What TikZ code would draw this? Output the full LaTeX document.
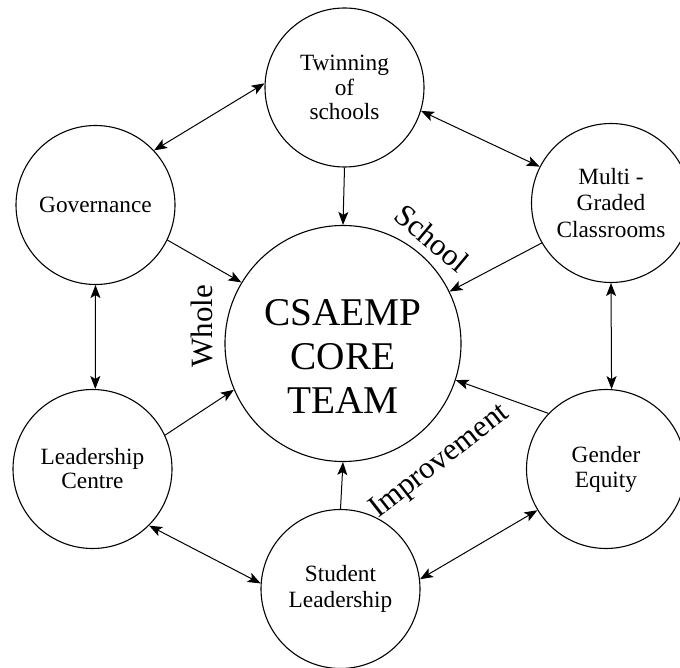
\documentclass[tikz,border=0pt]{standalone}
\usepackage{fontspec}
\setmainfont{Liberation Serif}
\usetikzlibrary{arrows.meta}
\begin{document}
\begin{tikzpicture}[x=1pt,y=-1pt,
  hub/.style={circle,draw,line width=1.1pt,minimum size=236pt,inner sep=0pt},
  topic/.style={circle,draw,line width=1.1pt,minimum size=159pt,inner sep=0pt,align=center},
  tfont/.style={font=\fontsize{23.3}{#1}\selectfont},
  tip/.tip={Stealth[length=13pt,width=10pt,inset=3pt]},
  link/.style={line width=1pt,-tip},
  twoway/.style={line width=1pt,tip-tip},
  theme/.style={font=\fontsize{31}{31}\selectfont,inner sep=0pt}
]
\clip (0,0) rectangle (680,668);

% central team
\node[hub] (core) at (343,343.5) {};
\node[align=center,inner sep=0pt,font=\fontsize{39.3}{44}\selectfont] (coretext) at (343,356) {CSAEMP\\CORE\\TEAM};

% surrounding programme areas
\node[topic,tfont=24.3] (twin) at (344.5,87.5) {Twinning\\of\\schools};
\node[topic,tfont=25] (gov) at (95.5,205) {Governance};
\node[topic,tfont=26.7] (multi) at (611,203) {Multi -\\Graded\\Classrooms};
\node[topic,tfont=25] (gender) at (606,469) {Gender\\Equity};
\node[topic,tfont=24] (lead) at (92.5,469) {Leadership\\Centre};
\node[topic,tfont=26.7] (stud) at (340.5,589) {Student\\Leadership};

% theme words around the hub
\node[theme,rotate=90,anchor=base] (whole) at (212,326) {Whole};
\node[theme,rotate=-40] (school) at (432,238) {School};
\node[theme,rotate=38] (improve) at (440,462) {Improvement};

% links into the core team
\draw[link] (twin.south) -- (core.north);
\draw[link] (gov.-26) -- (core.149);
\draw[link] (multi.210) -- (core.26);
\draw[link] (gender.136.5) -- (core.-18.3);
\draw[link] (lead.25) -- (core.203);
\draw[link] (stud.north) -- (core.south);

% two-way links around the ring
\draw[twoway] (twin.177.4) -- (gov.43.8);
\draw[twoway] (twin.-17.3) -- (multi.153.7);
\draw[twoway] (multi.south) -- (gender.86);
\draw[twoway] (gender.211.6) -- (stud.7.8);
\draw[twoway] (stud.176.4) -- (lead.-45.2);
\draw[twoway] (gov.south) -- (lead.88);
\end{tikzpicture}
\end{document}
